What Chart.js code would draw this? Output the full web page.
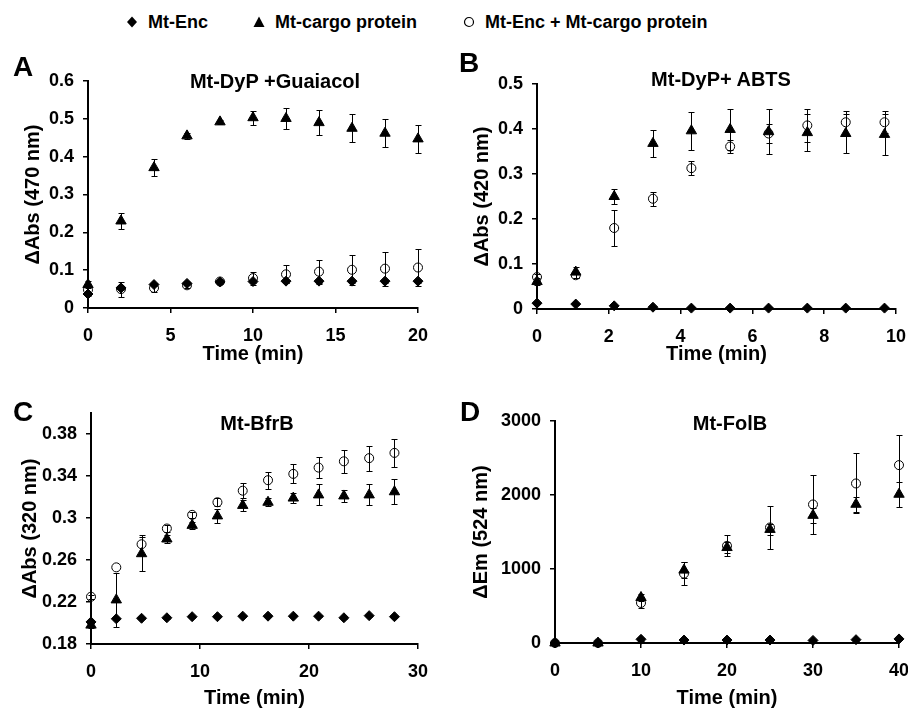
<!DOCTYPE html>
<html>
<head>
<meta charset="utf-8">
<script src="https://cdn.jsdelivr.net/npm/chart.js@4/dist/chart.umd.min.js"></script>
<style>
  body { margin: 0; background: #fff; }
  #page { position: relative; width: 908px; height: 709px; overflow: hidden; background: #fff;
          font-family: "Liberation Sans", Arial, sans-serif; font-weight: bold; color: #000; }
  canvas { position: absolute; }
  .lbl { position: absolute; transform: translate(-50%, -50%); white-space: nowrap; line-height: 1; }
  .letter { font-size: 28px; }
  .sub { font-size: 20px; }
  .leg { position: absolute; font-size: 18px; line-height: 1; transform: translateY(-50%); white-space: nowrap; }
  .leg svg { position: absolute; left: -22px; top: 50%; margin-top: -6px; }
</style>
</head>
<body>
<div id="page">
  <canvas id="chartA"></canvas>
  <canvas id="chartB"></canvas>
  <canvas id="chartC"></canvas>
  <canvas id="chartD"></canvas>
</div>
<script>
// series names (shared legend)
const seriesNames = ['Mt-Enc', 'Mt-cargo protein', 'Mt-Enc + Mt-cargo protein'];

// A: Mt-DyP +Guaiacol
const timeA = [0, 2, 4, 6, 8, 10, 12, 14, 16, 18, 20];
const encA = [0.037, 0.053, 0.062, 0.065, 0.069, 0.070, 0.071, 0.071, 0.071, 0.071, 0.071];
const encErrA = [0.004, 0.006, 0.005, 0.004, 0.004, 0.004, 0.004, 0.004, 0.004, 0.004, 0.004];
const cargoA = [0.062, 0.230, 0.371, 0.455, 0.492, 0.503, 0.501, 0.490, 0.475, 0.462, 0.447];
const cargoErrA = [0.010, 0.020, 0.022, 0.008, 0.006, 0.018, 0.027, 0.034, 0.037, 0.037, 0.037];
const mixA = [0.048, 0.050, 0.053, 0.060, 0.070, 0.079, 0.089, 0.096, 0.101, 0.104, 0.107];
const mixErrA = [0.010, 0.020, 0.012, 0.006, 0.006, 0.017, 0.024, 0.032, 0.040, 0.045, 0.048];
const xTicksA = [0, 5, 10, 15, 20];
const yTicksA = [0, 0.1, 0.2, 0.3, 0.4, 0.5, 0.6];

// B: Mt-DyP+ ABTS
const timeB = [0, 1.08, 2.15, 3.23, 4.3, 5.38, 6.45, 7.53, 8.6, 9.68];
const encB = [0.013, 0.011, 0.007, 0.004, 0.002, 0.002, 0.002, 0.002, 0.002, 0.002];
const encErrB = [0.002, 0.002, 0.002, 0.002, 0.002, 0.002, 0.002, 0.002, 0.002, 0.002];
const cargoB = [0.061, 0.082, 0.250, 0.368, 0.396, 0.399, 0.394, 0.392, 0.390, 0.388];
const cargoErrB = [0.008, 0.012, 0.017, 0.030, 0.042, 0.046, 0.050, 0.042, 0.044, 0.045];
const mixB = [0.071, 0.075, 0.180, 0.245, 0.313, 0.361, 0.390, 0.408, 0.415, 0.415];
const mixErrB = [0.006, 0.006, 0.039, 0.016, 0.015, 0.015, 0.020, 0.036, 0.026, 0.024];
const xTicksB = [0, 2, 4, 6, 8, 10];
const yTicksB = [0, 0.1, 0.2, 0.3, 0.4, 0.5];

// C: Mt-BfrB
const timeC = [0, 2.32, 4.64, 6.96, 9.28, 11.6, 13.92, 16.24, 18.56, 20.88, 23.2, 25.52, 27.84];
const encC = [0.201, 0.204, 0.2045, 0.205, 0.206, 0.206, 0.2065, 0.2065, 0.2065, 0.2065, 0.205, 0.207, 0.206];
const encErrC = [0.001, 0.001, 0.001, 0.001, 0.001, 0.001, 0.001, 0.001, 0.001, 0.001, 0.001, 0.001, 0.001];
const cargoC = [0.198, 0.222, 0.266, 0.280, 0.293, 0.302, 0.312, 0.315, 0.319, 0.322, 0.321, 0.322, 0.325];
const cargoErrC = [0.003, 0.026, 0.016, 0.004, 0.003, 0.007, 0.005, 0.004, 0.005, 0.010, 0.006, 0.010, 0.012];
const mixC = [0.225, 0.253, 0.275, 0.290, 0.303, 0.315, 0.326, 0.336, 0.342, 0.348, 0.354, 0.357, 0.362];
const mixErrC = [0.002, 0, 0.009, 0.003, 0.003, 0.004, 0.007, 0.008, 0.009, 0.010, 0.011, 0.012, 0.013];
const xTicksC = [0, 10, 20, 30];
const yTicksC = [0.18, 0.22, 0.26, 0.3, 0.34, 0.38];

// D: Mt-FolB
const timeD = [0, 5, 10, 15, 20, 25, 30, 35, 40];
const encD = [0, 0, 50, 40, 40, 40, 35, 45, 55];
const encErrD = [0, 0, 20, 10, 15, 10, 10, 15, 20];
const cargoD = [0, 0, 615, 985, 1290, 1535, 1725, 1875, 2010];
const cargoErrD = [0, 0, 50, 110, 80, 70, 100, 100, 170];
const mixD = [0, 0, 541, 938, 1313, 1561, 1872, 2156, 2404];
const mixErrD = [0, 0, 70, 150, 140, 290, 405, 405, 410];
const xTicksD = [0, 10, 20, 30, 40];
const yTicksD = [0, 1000, 2000, 3000];

const FONT = '"Liberation Sans", Arial, sans-serif';

// marker styles per series
const styles = [
  { pointStyle: 'rectRot', pointRadius: 5, pointBackgroundColor: '#000', pointBorderColor: '#000', pointBorderWidth: 1 },
  { pointStyle: 'triangle', pointRadius: 6, pointBackgroundColor: '#000', pointBorderColor: '#000', pointBorderWidth: 1 },
  { pointStyle: 'circle', pointRadius: 4.5, pointBackgroundColor: 'rgba(0,0,0,0)', pointBorderColor: '#000', pointBorderWidth: 1 },
];

// vertical error bars with caps, drawn under the markers
const errorBars = {
  id: 'errorBars',
  beforeDatasetsDraw(chart) {
    const { ctx, scales: { x, y } } = chart;
    ctx.save();
    ctx.strokeStyle = '#000';
    ctx.lineWidth = 1;
    chart.data.datasets.forEach(ds => {
      ds.data.forEach((p, i) => {
        const e = ds.errors[i];
        if (!e) return;
        const px = Math.round(x.getPixelForValue(p.x)) + 0.5;
        const top = Math.round(y.getPixelForValue(p.y + e)) + 0.5;
        const bot = Math.round(y.getPixelForValue(p.y - e)) + 0.5;
        ctx.beginPath();
        ctx.moveTo(px, top); ctx.lineTo(px, bot);
        ctx.moveTo(px - 3, top); ctx.lineTo(px + 3, top);
        ctx.moveTo(px - 3, bot); ctx.lineTo(px + 3, bot);
        ctx.stroke();
      });
    });
    ctx.restore();
  }
};

function series(i, xs, ys, errs) {
  return {
    label: seriesNames[i],
    data: xs.map((x, k) => ({ x: x, y: ys[k] })),
    errors: errs,
    showLine: false,
    clip: false,
    ...styles[i],
  };
}

function axis(min, max, ticks, title, size, pos) {
  return {
    type: 'linear', position: pos, min: min, max: max,
    afterBuildTicks: s => { s.ticks = ticks.map(v => ({ value: v })); },
    afterFit: s => { if (pos === 'bottom') s.height = size; else s.width = size; },
    grid: { drawOnChartArea: false, drawTicks: true, tickLength: 5, color: '#000', lineWidth: 1.5 },
    border: { display: true, color: '#000', width: 2 },
    ticks: { color: '#000', padding: pos === 'bottom' ? 12 : 9, autoSkip: false, maxRotation: 0,
             font: { family: FONT, size: 18, weight: 'bold' }, callback: v => String(v) },
    title: { display: true, text: title, color: '#000', padding: { top: 4, bottom: 4 },
             font: { family: FONT, size: 20, weight: 'bold' } },
  };
}

// box = canvas rect; area = wanted plot area; titles centred at xTitleY / yTitleX
function makePanel(id, box, area, xTitleY, yTitleX, xr, yr, datasets, letter, sub) {
  const el = document.getElementById(id);
  el.style.left = box.left + 'px';
  el.style.top = box.top + 'px';
  el.width = box.width;
  el.height = box.height;
  const half = 12; // title line height / 2 (20px * 1.2)
  const scaleLeft = yTitleX - 4 - half;
  const scaleBottom = xTitleY + 4 + half;
  const padding = {
    left: scaleLeft - box.left,
    top: area.t - box.top,
    right: box.left + box.width - area.r,
    bottom: box.top + box.height - scaleBottom,
  };
  new Chart(el, {
    type: 'scatter',
    data: { datasets: datasets },
    options: {
      responsive: false,
      animation: false,
      events: [],
      layout: { padding: padding },
      plugins: { legend: { display: false }, tooltip: { enabled: false } },
      scales: {
        x: axis(xr[0], xr[1], xr[2], 'Time (min)', scaleBottom - area.b, 'bottom'),
        y: axis(yr[0], yr[1], yr[2], yr[3], area.l - scaleLeft, 'left'),
      },
    },
    plugins: [errorBars],
  });
  const page = document.getElementById('page');
  [[letter, 'lbl letter'], [sub, 'lbl sub']].forEach(([t, cls]) => {
    const d = document.createElement('div');
    d.className = cls;
    d.textContent = t.text;
    d.style.left = t.x + 'px';
    d.style.top = t.y + 'px';
    page.appendChild(d);
  });
}

makePanel('chartA', { left: 0, top: 40, width: 450, height: 340 }, { l: 88, r: 418, t: 81, b: 308 }, 354, 33,
  [0, 20, xTicksA], [0, 0.6, yTicksA, 'ΔAbs (470 nm)'],
  [series(0, timeA, encA, encErrA), series(1, timeA, cargoA, cargoErrA), series(2, timeA, mixA, mixErrA)],
  { text: 'A', x: 23, y: 67 }, { text: 'Mt-DyP +Guaiacol', x: 275, y: 81 });

makePanel('chartB', { left: 454, top: 40, width: 470, height: 340 }, { l: 537, r: 896, t: 84, b: 309 }, 354, 482,
  [0, 10, xTicksB], [0, 0.5, yTicksB, 'ΔAbs (420 nm)'],
  [series(0, timeB, encB, encErrB), series(1, timeB, cargoB, cargoErrB), series(2, timeB, mixB, mixErrB)],
  { text: 'B', x: 469, y: 63 }, { text: 'Mt-DyP+ ABTS', x: 721, y: 79 });

makePanel('chartC', { left: 0, top: 380, width: 450, height: 329 }, { l: 91, r: 418, t: 413, b: 644 }, 698, 30,
  [0, 30, xTicksC], [0.18, 0.40, yTicksC, 'ΔAbs (320 nm)'],
  [series(0, timeC, encC, encErrC), series(1, timeC, cargoC, cargoErrC), series(2, timeC, mixC, mixErrC)],
  { text: 'C', x: 23, y: 412 }, { text: 'Mt-BfrB', x: 257, y: 423 });

makePanel('chartD', { left: 454, top: 380, width: 470, height: 329 }, { l: 555, r: 899, t: 421, b: 643 }, 698, 481,
  [0, 40, xTicksD], [0, 3000, yTicksD, 'ΔEm (524 nm)'],
  [series(0, timeD, encD, encErrD), series(1, timeD, cargoD, cargoErrD), series(2, timeD, mixD, mixErrD)],
  { text: 'D', x: 470, y: 412 }, { text: 'Mt-FolB', x: 730, y: 423 });

// shared legend
const legendIcons = [
  '<polygon points="6,0.5 11,6 6,11.5 1,6" fill="#000"/>',
  '<polygon points="6,0.5 11.5,11 0.5,11" fill="#000"/>',
  '<circle cx="6" cy="6" r="4.5" fill="none" stroke="#000" stroke-width="1.2"/>',
];
const legendX = [148, 275, 485];
seriesNames.forEach((name, i) => {
  const d = document.createElement('div');
  d.className = 'leg';
  d.style.left = legendX[i] + 'px';
  d.style.top = '22px';
  d.innerHTML = '<svg width="12" height="12" viewBox="0 0 12 12">' + legendIcons[i] + '</svg>';
  d.appendChild(document.createTextNode(name));
  document.getElementById('page').appendChild(d);
});
</script>
</body>
</html>
